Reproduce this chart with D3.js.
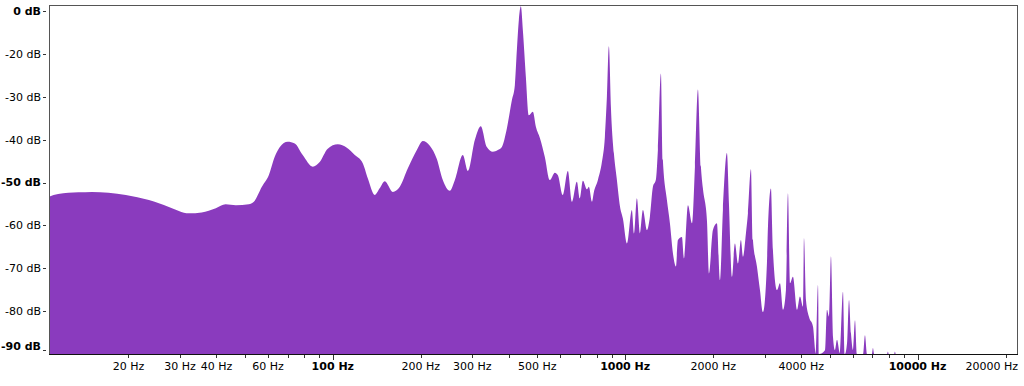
<!DOCTYPE html>
<meta charset="utf-8">
<head>
<style>
  body { margin: 0; background: #fff; }
  svg { display: block; }
  .axis text { font: 11px "DejaVu Sans", Verdana, sans-serif; fill: #000; }
  .axis .bold { font-weight: bold; }
  .spectrum { fill: #8a3bbe; }
  .frame { fill: none; stroke: #555; shape-rendering: crispEdges; }
  .tick { stroke: #333; shape-rendering: crispEdges; }
</style>
</head>
<body>
<script src="https://d3js.org/d3.v7.min.js"></script>
<script>
// spectrum: frequency (Hz) and level (dB)
var freqs = [
  10.7, 11.5, 13.5, 15.0, 17.1, 19.6, 23.5, 27.5, 32.2, 35.6,
  39.8, 43.0, 46.6, 51.6, 53.7, 57.2, 60.4, 63.3, 65.9, 70.1,
  74.1, 78.9, 85.4, 90.2, 96.1, 104, 111.7, 118.9, 126.6, 131.7,
  139.2, 144.8, 150.6, 160.4, 169.5, 180.6, 193.8, 203.2, 214.7, 226.9,
  237.8, 251.3, 261.5, 278.4, 289.6, 306, 320.8, 336.3, 352.6, 366.8,
  378.6, 393.8, 409.6, 419.4, 426.1, 432.8, 439.7, 446.7, 457.4, 468.3,
  483.3, 494.9, 510.8, 531.3, 552.6, 574.8, 588.6, 612.2, 636.8, 657.2,
  683.6, 699.8, 716.6, 739.6, 751.3, 769.3, 781.5, 806.5, 832.4, 852.2,
  865.8, 879.5, 893.6, 914.8, 936.8, 959.2, 982, 1013.5, 1054, 1071,
  1096.5, 1122.8, 1149.7, 1186.6, 1214.8, 1243.9, 1273.5, 1293.7, 1324.8, 1345.7,
  1388.9, 1422.2, 1456.3, 1490.9, 1514.8, 1563.4, 1588.1, 1639.1, 1691.7, 1731.8,
  1773.3, 1815.5, 1844.3, 1903.4, 1933.5, 1995.3, 2059.2, 2108.6, 2158.7, 2227.9,
  2263.6, 2317.4, 2372.9, 2429.8, 2487.5, 2527.4, 2587.5, 2629, 2692, 2734.5,
  2822, 2890, 2958.5, 3053, 3078, 3151, 3201, 3304, 3383, 3464,
  3546, 3603, 3660, 3747, 3868, 3960, 4055, 4087, 4152, 4251,
  4388, 4492, 4564, 4600, 4822, 4898, 4976, 5055, 5136, 5217,
  5300, 5427, 5557, 5645, 5736, 5827, 5919, 6013, 6109, 6205,
  6505, 6607, 6712, 6980, 7036, 7100, 7860, 7916, 7970, 8310,
  8366, 8420, 22050
];
var levels = [
  -53.3, -52.7, -52.3, -52.2, -52.4, -52.9, -54.1, -55.7, -57.2, -57.0,
  -56.0, -55.1, -55.3, -55.1, -54.5, -51.0, -48.3, -44.0, -41.7, -40.5,
  -40.9, -43.6, -46.3, -45.2, -42.1, -41.1, -41.9, -43.6, -45.5, -49.0,
  -52.9, -51.3, -49.7, -52.2, -51.0, -46.7, -42.4, -40.3, -41.4, -44.5,
  -49.4, -51.9, -49.4, -43.6, -47.3, -40.1, -36.9, -41.7, -42.8, -42.4,
  -41.7, -37.4, -30.8, -27.3, -19.1, -12.1, -8.9, -14.5, -25.4, -34.3,
  -33.5, -37.0, -39.6, -44.1, -49.4, -47.7, -48.3, -52.9, -47.3, -54.5,
  -49.8, -53.7, -49.6, -51.6, -51.0, -54.5, -52.2, -49.4, -45.2, -39.3,
  -30.0, -18.2, -32.4, -43.2, -49.4, -55.5, -58.4, -64.2, -56.4, -61.9,
  -53.7, -61.9, -56.4, -61.1, -58.0, -51.0, -49.3, -42.4, -24.6, -44.8,
  -54.1, -59.5, -66.5, -69.6, -63.4, -62.7, -67.7, -55.3, -59.5, -46.3,
  -28.3, -46.3, -51.4, -58.8, -71.2, -61.1, -59.5, -72.8, -56.4, -43.1,
  -54.9, -72.0, -64.2, -68.9, -63.4, -67.3, -61.9, -57.2, -46.9, -63.4,
  -69.6, -75.1, -80.2, -68.9, -60.3, -51.4, -65.8, -75.1, -73.5, -79.7,
  -75.1, -52.5, -73.5, -72.0, -79.7, -76.6, -79.0, -63.0, -77.4, -81.3,
  -83.6, -95, -73.9, -95, -89.1, -79.7, -81.3, -67.2, -86.0, -89.1,
  -86.7, -95, -75.5, -92, -87.5, -77.4, -85.2, -89.1, -82.1, -95,
  -95, -85.6, -95, -95, -88.6, -95, -95, -89.4, -95, -95,
  -89.4, -95, -95
];

var yTickValues = [-10, -20, -30, -40, -50, -60, -70, -80, -90];
var yTickLabels = ["0 dB", "-20 dB", "-30 dB", "-40 dB", "-50 dB", "-60 dB", "-70 dB", "-80 dB", "-90 dB"];
var yBoldLabels = ["0 dB", "-50 dB", "-90 dB"];
var xLabelValues = [20, 30, 40, 60, 100, 200, 300, 500, 1000, 2000, 4000, 10000, 20000];
var xBoldValues = [100, 1000, 10000];

var W = 1024, H = 386;
var plotLeft = 49, plotRight = 1018, plotTop = 5, plotBottom = 354;

var svg = d3.select("body").append("svg")
    .attr("width", W)
    .attr("height", H);

var x = d3.scaleLog()
    .domain([10.7, 22050])
    .range([plotLeft, plotRight]);

var y = d3.scaleLinear()
    .domain([-90, -8.6])
    .range([plotBottom, plotTop])
    .clamp(true);

var data = freqs.map(function(f, i) { return {f: f, db: levels[i]}; });

var area = d3.area()
    .x(function(d) { return x(d.f); })
    .y0(plotBottom)
    .y1(function(d) { return y(d.db); })
    .curve(d3.curveMonotoneX);

svg.append("path")
    .datum(data)
    .attr("class", "spectrum")
    .attr("d", area);

// frame
svg.append("rect")
    .attr("class", "frame")
    .attr("x", plotLeft + 0.5)
    .attr("y", plotTop + 0.5)
    .attr("width", plotRight - plotLeft - 1)
    .attr("height", plotBottom - plotTop);

svg.append("line")
    .attr("x1", plotLeft).attr("x2", plotRight)
    .attr("y1", plotBottom + 0.5).attr("y2", plotBottom + 0.5)
    .attr("stroke", "#111");

// x axis
var gx = svg.append("g").attr("class", "axis");

gx.selectAll("line.tick")
    .data(x.ticks())
    .enter().append("line")
    .attr("class", "tick")
    .attr("x1", function(d) { return Math.round(x(d)) + 0.5; })
    .attr("x2", function(d) { return Math.round(x(d)) + 0.5; })
    .attr("y1", plotBottom + 1)
    .attr("y2", function(d) { return xBoldValues.indexOf(d) >= 0 ? plotBottom + 6 : plotBottom + 4; });

gx.selectAll("text")
    .data(xLabelValues)
    .enter().append("text")
    .attr("class", function(d) { return xBoldValues.indexOf(d) >= 0 ? "bold" : null; })
    .attr("y", 370)
    .attr("text-anchor", "middle")
    .text(function(d) { return d + " Hz"; })
    .attr("x", function(d) {
      var half = this.getComputedTextLength() / 2;
      return Math.min(x(d), plotRight - half);
    });

// y axis
var gy = svg.append("g").attr("class", "axis");

gy.selectAll("line.tick")
    .data(yTickValues)
    .enter().append("line")
    .attr("class", "tick")
    .attr("x1", 43).attr("x2", 46)
    .attr("y1", function(d) { return Math.round(Math.min(y(d), plotBottom - 4)) + 0.5; })
    .attr("y2", function(d) { return Math.round(Math.min(y(d), plotBottom - 4)) + 0.5; });

gy.selectAll("text")
    .data(yTickValues)
    .enter().append("text")
    .attr("class", function(d, i) { return yBoldLabels.indexOf(yTickLabels[i]) >= 0 ? "bold" : null; })
    .attr("x", 41)
    .attr("y", function(d) { return Math.min(y(d), plotBottom - 8); })
    .attr("dy", "0.36em")
    .attr("text-anchor", "end")
    .text(function(d, i) { return yTickLabels[i]; });
</script>
</body>
